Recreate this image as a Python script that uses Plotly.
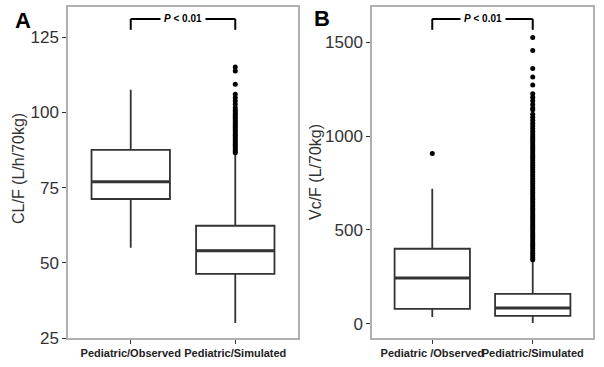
import plotly.graph_objects as go

# ---------------- data ----------------
cats_A = ["Pediatric/Observed", "Pediatric/Simulated"]
cats_B = ["Pediatric /Observed", "Pediatric/Simulated"]

A_q1 = [71.2, 46.3]
A_median = [76.9, 54.0]
A_q3 = [87.5, 62.3]
A_lower = [55.0, 30.0]
A_upper = [107.5, 86.3]
A_sim_outliers = [115.1, 113.7, 109.3, 106.0, 104.8, 103.8, 102.7, 101.5, 100.8,
                  100.2, 99.6, 99.0, 98.4, 97.8, 97.2, 96.6, 96.0, 95.4, 94.8,
                  94.2, 93.6, 93.0, 92.4, 91.8, 91.2, 90.6, 90.0, 89.4, 88.8,
                  88.2, 87.6, 87.0, 86.6]

B_q1 = [80, 43]
B_median = [245, 85]
B_q3 = [400, 160]
B_lower = [37, 5]
B_upper = [720, 330]
B_obs_outliers = [907]
B_sim_outliers = [1525, 1455, 1360, 1315, 1272, 1225, 1207, 1188, 1168, 1150, 1140,
                  1116, 1100, 1084, 1068, 1054, 1040, 1026, 1012, 1000, 988, 976,
                  964, 952, 940, 928, 916, 904, 892, 880, 868, 856, 844, 832, 820,
                  808, 796, 784, 772, 760, 748, 736, 724, 712, 700, 688, 676, 664,
                  652, 640, 628, 616, 604, 592, 580, 568, 556, 544, 532, 520, 508,
                  496, 484, 472, 460, 448, 436, 424, 412, 400, 388, 376, 364, 352, 342]

A_ticks = [25, 50, 75, 100, 125]
B_ticks = [0, 500, 1000, 1500]

# ---------------- figure ----------------
FONT = "Liberation Sans, Arial, sans-serif"
BOXLINE = "#333333"
BOXW = 0.75

fig = go.Figure()

def add_boxes(xref, yref, q1, med, q3, lo, hi):
    for i in range(2):
        fig.add_trace(go.Box(
            x=[i], q1=[q1[i]], median=[med[i]], q3=[q3[i]],
            lowerfence=[lo[i]], upperfence=[hi[i]],
            width=BOXW, whiskerwidth=0, fillcolor="white",
            line=dict(color=BOXLINE, width=1.8),
            boxpoints=False, xaxis=xref, yaxis=yref, showlegend=False,
            hoverinfo="skip"))
        # thicker median line (ggplot fatten)
        fig.add_shape(type="line", xref=xref, yref=yref,
                      x0=i - BOXW / 2, x1=i + BOXW / 2, y0=med[i], y1=med[i],
                      line=dict(color=BOXLINE, width=3), layer="above")

add_boxes("x", "y", A_q1, A_median, A_q3, A_lower, A_upper)
add_boxes("x2", "y2", B_q1, B_median, B_q3, B_lower, B_upper)

fig.add_trace(go.Scatter(x=[1] * len(A_sim_outliers), y=A_sim_outliers, mode="markers",
                         marker=dict(color="black", size=5), xaxis="x", yaxis="y",
                         showlegend=False, hoverinfo="skip"))
fig.add_trace(go.Scatter(x=[0] * len(B_obs_outliers), y=B_obs_outliers, mode="markers",
                         marker=dict(color="black", size=5), xaxis="x2", yaxis="y2",
                         showlegend=False, hoverinfo="skip"))
fig.add_trace(go.Scatter(x=[1] * len(B_sim_outliers), y=B_sim_outliers, mode="markers",
                         marker=dict(color="black", size=5), xaxis="x2", yaxis="y2",
                         showlegend=False, hoverinfo="skip"))

ydom = [1 - 338 / 367, 1 - 7 / 367]
common_x = dict(range=[-0.6, 1.6], tickvals=[0, 1], showgrid=False, zeroline=False,
                showline=True, mirror=True, linecolor="#b0b0b0", linewidth=1.5,
                ticks="outside", ticklen=4, tickcolor="#333333", tickangle=0,
                automargin=False,
                tickfont=dict(family=FONT, size=11, color="#222222"), fixedrange=True)
common_y = dict(showgrid=False, zeroline=False, showline=True, mirror=True,
                linecolor="#b0b0b0", linewidth=1.5, ticks="outside", ticklen=4,
                tickcolor="#333333", tickfont=dict(family=FONT, size=17, color="#333333"),
                automargin=False, domain=ydom)

fig.update_layout(
    width=604, height=367, margin=dict(l=0, r=0, t=0, b=0, autoexpand=False),
    paper_bgcolor="white", plot_bgcolor="white",
    xaxis=dict(common_x, domain=[68 / 604, 298 / 604],
               ticktext=["<b>%s</b>" % c for c in cats_A], anchor="y"),
    yaxis=dict(common_y, range=[25, 135], tickvals=A_ticks, anchor="x"),
    xaxis2=dict(common_x, domain=[372 / 604, 593 / 604],
                ticktext=["<b>%s</b>" % c for c in cats_B], anchor="y2"),
    yaxis2=dict(common_y, range=[-75, 1687], tickvals=B_ticks, anchor="x2"),
)

# significance brackets
def bracket(xref, ydref, label):
    top, bot = 0.964, 0.931
    fig.add_shape(type="line", xref=xref, yref=ydref, x0=0, x1=1, y0=top, y1=top,
                  line=dict(color="black", width=2))
    for xx in (0, 1):
        fig.add_shape(type="line", xref=xref, yref=ydref, x0=xx, x1=xx, y0=top, y1=bot,
                      line=dict(color="black", width=2))
    fig.add_annotation(x=0.5, y=top, xref=xref, yref=ydref, text=label, showarrow=False,
                       bgcolor="white", borderpad=3, xanchor="center", yanchor="middle",
                       font=dict(family=FONT, size=10, color="black"))

bracket("x", "y domain", "<b><i>P</i> &lt; 0.01</b>")
bracket("x2", "y2 domain", "<b><i>P</i> &lt; 0.01</b>")

# axis titles
fig.add_annotation(x=18 / 604, y=1 - 169 / 367, xref="paper", yref="paper",
                   xanchor="center", yanchor="middle",
                   text="CL/F (L/h/70kg)", textangle=-90, showarrow=False,
                   font=dict(family=FONT, size=16, color="#333333"))
fig.add_annotation(x=315 / 604, y=1 - 172 / 367, xref="paper", yref="paper",
                   xanchor="center", yanchor="middle",
                   text="Vc/F (L/70kg)", textangle=-90, showarrow=False,
                   font=dict(family=FONT, size=16, color="#333333"))

# panel letters
fig.add_annotation(x=23 / 604, y=1 - 20 / 367, xref="paper", yref="paper",
                   xanchor="center", yanchor="middle",
                   text="<b>A</b>", showarrow=False,
                   font=dict(family=FONT, size=22, color="black"))
fig.add_annotation(x=322 / 604, y=1 - 18 / 367, xref="paper", yref="paper",
                   xanchor="center", yanchor="middle",
                   text="<b>B</b>", showarrow=False,
                   font=dict(family=FONT, size=22, color="black"))

fig.write_html("out.html", config={"displayModeBar": False},
               post_script="document.body.style.margin='0';document.body.style.overflow='hidden';")
